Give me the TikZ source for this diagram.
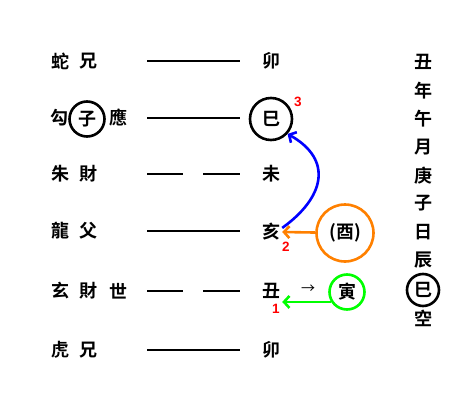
\documentclass[tikz,border=0pt]{standalone}
\usepackage{fontspec}
\setmainfont{Noto Sans CJK TC}[BoldFont={Noto Sans CJK TC Bold}]
\newfontfamily\numfont{Liberation Sans}
\usetikzlibrary{arrows.meta}

\begin{document}
\begin{tikzpicture}[x=1pt, y=-1pt, >={Straight Barb[length=5.5pt, width=12pt]},
	ch/.style={font=\bfseries\fontsize{18}{18}\selectfont, inner sep=2pt},
	ring/.style={ch, circle, draw=black, line width=2.6pt, inner sep=0pt},
	num/.style={font=\numfont\bfseries\fontsize{13.5}{13.5}\selectfont, text=red, inner sep=0pt},
	yao/.style={line width=1.2pt}]
	\useasboundingbox (0,0) rectangle (467,407);

	% left column
	\node[ch] (shou1) at (60,61) {蛇};  \node[ch] (qin1) at (88,61) {兄};
	\node[ch] (shou2) at (59,118) {勾}; \node[ring, minimum size=35pt] (qin2) at (87,119) {子};
	\node[ch] (ying) at (118,118) {應};
	\node[ch] (shou3) at (60,174) {朱}; \node[ch] (qin3) at (88,174) {財};
	\node[ch] (shou4) at (60,231) {龍}; \node[ch] (qin4) at (88,231) {父};
	\node[ch] (shou5) at (60,291) {玄}; \node[ch] (qin5) at (88,291) {財};
	\node[ch] (shi) at (118,291) {世};
	\node[ch] (shou6) at (60,350) {虎}; \node[ch] (qin6) at (88,350) {兄};

	% yao lines
	\foreach \y in {61,118,231,350}
		\draw[yao] (147,\y) -- (240,\y);
	\foreach \y in {174,291} {
		\draw[yao] (147,\y) -- (183,\y);
		\draw[yao] (203,\y) -- (240,\y);
	}

	% branches
	\node[ch] (mao1) at (271,61) {卯};
	\node[ring, minimum size=42pt] (si) at (271,119) {巳};
	\node[ch] (wei) at (271,174) {未};
	\node[ch] (hai) at (271,232) {亥};
	\node[ch] (chou) at (271,291) {丑};
	\node[ch] (mao2) at (271,350) {卯};

	\node[ch, circle, draw=orange, line width=2.6pt, minimum size=57pt, inner sep=0pt] (you) at (345,233) {(酉)};
	\node[ch, circle, draw=green, line width=2.6pt, minimum size=35pt, inner sep=0pt] (yin) at (347,292) {寅};
	\node[ch, font=\fontsize{14}{14}\selectfont] (to) at (308,289) {→};

	\node[num] (n1) at (276,309) {1};
	\node[num] (n2) at (286,247) {2};
	\node[num] (n3) at (298,102) {3};

	\draw[->, orange, line width=2.6pt] (you) -- (hai.east);
	\draw[->, green, line width=2.6pt] (yin.212) -- (yin.212 -| hai.east);
	\draw[->, blue, line width=2.6pt] (hai.20) .. controls (324,198) and (334,160) .. (si.-42);

	% date column
	\foreach \c [count=\i] in {丑,年,午,月,庚,子,日,辰}
		\node[ch] (date\i) at (423,{62+28.3*(\i-1)}) {\c};
	\node[ring, minimum size=32pt] (kong1) at (423,290) {巳};
	\node[ch] (kong2) at (423,318) {空};
\end{tikzpicture}
\end{document}
